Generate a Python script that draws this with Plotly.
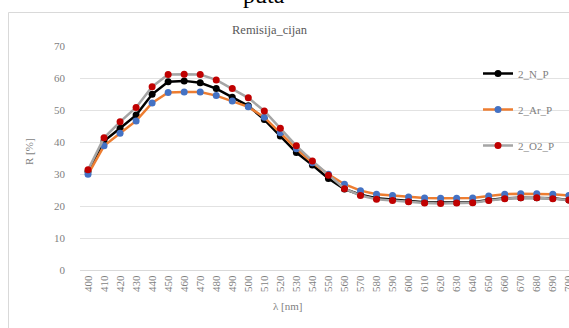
import plotly.graph_objects as go

wavelengths = list(range(400, 701, 10))
tick_labels = [str(w) for w in wavelengths]

n_p = [30.8, 40.3, 44.3, 48.4, 54.9, 58.8, 59.1, 58.5, 56.7, 54.0, 51.3, 47.0, 41.9, 36.7, 32.8,
       28.6, 25.3, 23.5, 22.4, 22.0, 21.5, 21.2, 21.1, 21.1, 21.2, 21.9, 22.4, 22.6, 22.6, 22.4, 21.9]
ar_p = [29.9, 38.8, 42.7, 46.6, 52.2, 55.5, 55.6, 55.6, 54.5, 52.8, 51.0, 47.7, 42.9, 37.9, 33.5,
        29.9, 26.8, 24.8, 23.7, 23.3, 22.8, 22.5, 22.4, 22.4, 22.5, 23.1, 23.7, 23.8, 23.8, 23.7, 23.3]
o2_p = [31.3, 41.3, 46.3, 50.8, 57.3, 61.1, 61.2, 61.1, 59.4, 56.7, 53.8, 49.7, 44.3, 38.8, 34.1,
        29.6, 25.4, 23.3, 22.1, 21.7, 21.3, 20.9, 20.8, 20.9, 21.0, 21.7, 22.3, 22.6, 22.6, 22.3, 21.9]

series = [
    ("2_N_P", n_p, "#000000", "#000000"),
    ("2_Ar_P", ar_p, "#ED7D31", "#4472C4"),
    ("2_O2_P", o2_p, "#A5A5A5", "#C00000"),
]

FONT = "Liberation Serif, Times New Roman, serif"
GREY = "#7f7f7f"

fig = go.Figure()
for i, (name, vals, lc, mc) in enumerate(series):
    fig.add_trace(go.Scatter(
        x=wavelengths, y=vals, name=name, mode="lines+markers",
        line=dict(color=lc, width=2.5),
        marker=dict(color=mc, size=7, line=dict(width=0)),
        legendgroup=f"g{i}",
    ))

W, H = 569, 328
L, R, T, B = 80, 0, 46, 58
pw, ph = W - L - R, H - T - B

def px(x):
    return (x - L) / pw

def py(y):
    return (H - B - y) / ph

fig.update_layout(
    width=W, height=H,
    margin=dict(l=L, r=R, t=T, b=B, autoexpand=False),
    paper_bgcolor="white", plot_bgcolor="white",
    font=dict(family=FONT, color=GREY, size=11),
    showlegend=True,
    legend=dict(
        x=px(478), y=py(59), xanchor="left", yanchor="top",
        bgcolor="rgba(0,0,0,0)", font=dict(family=FONT, size=11, color=GREY),
        tracegroupgap=17, itemwidth=30,
    ),
    xaxis=dict(
        range=[395, 700.1], tickmode="array", tickvals=wavelengths, ticktext=tick_labels,
        tickangle=-90, showgrid=False, showline=True, linecolor="#d9d9d9", linewidth=1,
        zeroline=False, ticks="", ticklabeloverflow="allow",
        tickfont=dict(family=FONT, size=11, color=GREY),
    ),
    yaxis=dict(
        range=[0, 70], dtick=10, showgrid=True, gridcolor="#e2e2e2", gridwidth=1,
        zeroline=False, showline=False, ticks="", ticklabelstandoff=14,
        tickfont=dict(family=FONT, size=11, color=GREY),
    ),
    annotations=[
        dict(text="Remisija_cijan", x=px(270), y=py(30), xref="paper", yref="paper",
             xanchor="center", yanchor="middle", showarrow=False,
             font=dict(family=FONT, size=12.5, color="#595959")),
        dict(text="puta", x=px(264), y=py(10), xref="paper", yref="paper",
             xanchor="center", yanchor="bottom", showarrow=False,
             font=dict(family=FONT, size=24, color="#000000")),
        dict(text="R [%]", x=px(29), y=py(152), xref="paper", yref="paper",
             xanchor="center", yanchor="middle", showarrow=False, textangle=-90,
             font=dict(family=FONT, size=11, color=GREY)),
        dict(text="λ [nm]", x=px(287), y=py(306), xref="paper", yref="paper",
             xanchor="center", yanchor="middle", showarrow=False,
             font=dict(family=FONT, size=11, color=GREY)),
    ],
    shapes=[
        dict(type="line", xref="paper", yref="paper", x0=px(8.5), x1=px(8.5), y0=py(12.5), y1=py(340),
             line=dict(color="#d9d9d9", width=1)),
        dict(type="line", xref="paper", yref="paper", x0=px(8.5), x1=px(580), y0=py(12.5), y1=py(12.5),
             line=dict(color="#d9d9d9", width=1)),
    ],
)

fig.write_html("out.html", config={"displayModeBar": False},
               post_script="document.body.style.margin='0px';document.body.style.overflow='hidden';")
